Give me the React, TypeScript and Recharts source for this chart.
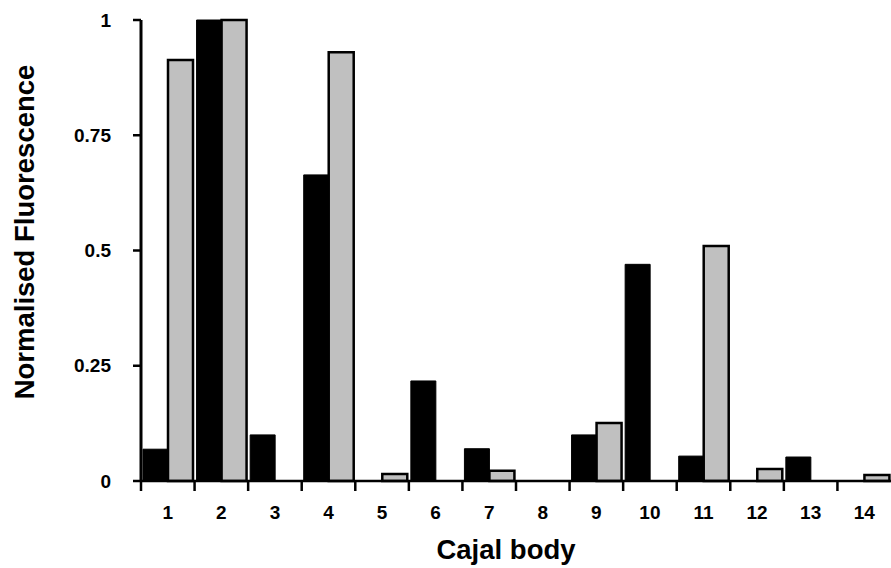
import React from "react";
import { BarChart, Bar, XAxis, YAxis } from "recharts";

const cajalBodies = ["1", "2", "3", "4", "5", "6", "7", "8", "9", "10", "11", "12", "13", "14"];
const blackValues = [0.069, 1, 0.1, 0.664, 0, 0.217, 0.07, 0, 0.1, 0.47, 0.054, 0, 0.052, 0];
const greyValues = [0.913, 1, 0, 0.93, 0.015, 0, 0.022, 0, 0.126, 0, 0.51, 0.026, 0, 0.013];
const yTicks = [0, 0.25, 0.5, 0.75, 1];

const data = cajalBodies.map((name, i) => ({
  name,
  black: blackValues[i],
  grey: greyValues[i],
}));

const FONT = '"Liberation Sans", Arial, Helvetica, sans-serif';

function XTick(props: any) {
  const { x, y, payload } = props;
  const half = payload?.offset ?? 750 / 14 / 2;
  return (
    <g>
      <line x1={x - half} x2={x - half} y1={y} y2={y + 10} stroke="#000" strokeWidth={2.5} />
      <text
        x={x}
        y={y + 31}
        textAnchor="middle"
        dominantBaseline="central"
        fontFamily={FONT}
        fontWeight="bold"
        fontSize={19}
        fill="#000"
      >
        {payload.value}
      </text>
    </g>
  );
}

function YTitle() {
  return (
    <text
      x={24}
      y={232}
      transform="rotate(-90, 24, 232)"
      textAnchor="middle"
      dominantBaseline="central"
      fontFamily={FONT}
      fontWeight="bold"
      fontSize={27.5}
      fill="#000"
    >
      Normalised Fluorescence
    </text>
  );
}

function XTitle() {
  return (
    <text
      x={506}
      y={549}
      textAnchor="middle"
      dominantBaseline="central"
      fontFamily={FONT}
      fontWeight="bold"
      fontSize={27.5}
      fill="#000"
    >
      Cajal body
    </text>
  );
}

export default function App() {
  return (
    <div style={{ position: "absolute", left: 0, top: 0, background: "#fff" }}>
      <BarChart
        width={891}
        height={568}
        data={data}
        margin={{ top: 20, right: 0, bottom: 0, left: 0 }}
        barCategoryGap={2}
        barGap={0}
      >
        <XAxis
          dataKey="name"
          height={87}
          tick={<XTick />}
          tickLine={false}
          tickSize={0}
          tickMargin={0}
          axisLine={{ stroke: "#000", strokeWidth: 2.5 }}
          interval={0}
          label={<XTitle />}
        />
        <YAxis
          width={141}
          domain={[0, 1]}
          ticks={yTicks}
          interval={0}
          tickSize={8}
          tickMargin={22}
          axisLine={{ stroke: "#000", strokeWidth: 3 }}
          tickLine={{ stroke: "#000", strokeWidth: 2.5 }}
          tick={{ fontFamily: FONT, fontWeight: "bold", fontSize: 19, fill: "#000" }}
          label={<YTitle />}
        />
        <Bar dataKey="black" fill="#000" stroke="#000" strokeWidth={1} isAnimationActive={false} />
        <Bar dataKey="grey" fill="#c0c0c0" stroke="#000" strokeWidth={2.5} isAnimationActive={false} />
      </BarChart>
    </div>
  );
}
